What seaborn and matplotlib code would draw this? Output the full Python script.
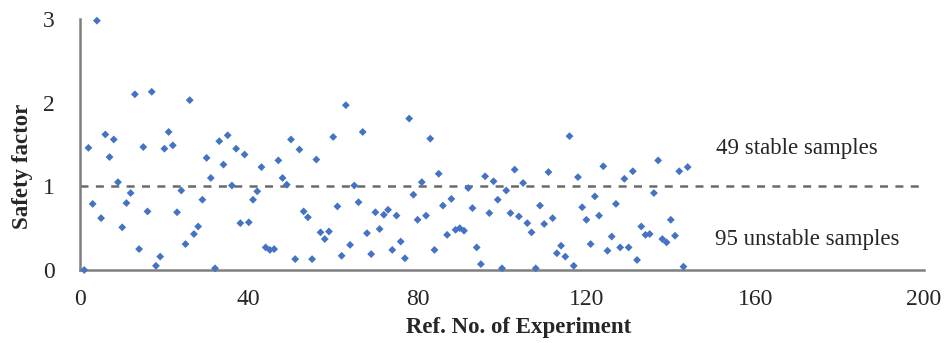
import matplotlib
matplotlib.use("Agg")
import matplotlib.pyplot as plt
import seaborn as sns
import pandas as pd

experiment = list(range(1, 145))
safety_factor = [
    0.00, 1.46, 0.79, 2.98, 0.62, 1.62, 1.35, 1.56, 1.05, 0.51,
    0.80, 0.92, 2.10, 0.25, 1.47, 0.70, 2.13, 0.05, 0.16, 1.45,
    1.65, 1.49, 0.69, 0.95, 0.31, 2.03, 0.43, 0.52, 0.84, 1.34,
    1.10, 0.02, 1.54, 1.26, 1.61, 1.01, 1.45, 0.56, 1.38, 0.57,
    0.84, 0.94, 1.23, 0.27, 0.24, 0.25, 1.31, 1.10, 1.02, 1.56,
    0.13, 1.44, 0.70, 0.63, 0.13, 1.32, 0.45, 0.37, 0.46, 1.59,
    0.76, 0.17, 1.97, 0.30, 1.01, 0.81, 1.65, 0.44, 0.19, 0.69,
    0.49, 0.66, 0.72, 0.24, 0.65, 0.34, 0.14, 1.81, 0.90, 0.60,
    1.05, 0.65, 1.57, 0.24, 1.15, 0.77, 0.42, 0.85, 0.48, 0.50,
    0.47, 0.98, 0.74, 0.27, 0.07, 1.12, 0.68, 1.06, 0.84, 0.02,
    0.95, 0.68, 1.20, 0.64, 1.04, 0.56, 0.45, 0.02, 0.77, 0.55,
    1.17, 0.62, 0.20, 0.29, 0.16, 1.60, 0.05, 1.11, 0.75, 0.60,
    0.31, 0.88, 0.65, 1.24, 0.23, 0.40, 0.79, 0.27, 1.09, 0.27,
    1.18, 0.12, 0.52, 0.42, 0.43, 0.92, 1.31, 0.37, 0.33, 0.60,
    0.41, 1.18, 0.04, 1.23,
]
x_ticks = [0, 40, 80, 120, 160, 200]
y_ticks = [0, 1, 2, 3]
threshold = 1.0
stable_label = "49 stable samples"
unstable_label = "95 unstable samples"

df = pd.DataFrame({"exp": experiment, "sf": safety_factor})

sns.set_theme(style="white")
plt.rcParams["font.family"] = ["Liberation Serif", "DejaVu Serif"]

fig = plt.figure(figsize=(9.46, 3.43), dpi=100)
ax = fig.add_axes([80 / 946, 1 - 270 / 343, 844 / 946, 251 / 343])

ax.axhline(threshold, color="#6a6a6a", linestyle=(0, (3.2, 2.95)), linewidth=1.8, zorder=1)
sns.scatterplot(data=df, x="exp", y="sf", marker="D", s=16, color="#4472C4",
                edgecolor="none", ax=ax, zorder=3, clip_on=False)

ax.set_xlim(0, 200)
ax.set_ylim(0, 3)
ax.set_xticks(x_ticks)
ax.set_yticks(y_ticks)
ax.set_xticklabels([str(t) for t in x_ticks], fontsize=17)
ax.set_yticklabels([str(t) for t in y_ticks], fontsize=17)
ax.tick_params(axis="both", direction="out", length=5, width=1.4, color="#7f7f7f")
ax.tick_params(axis="x", pad=9)
ax.tick_params(axis="y", pad=13)

for side in ["top", "right"]:
    ax.spines[side].set_visible(False)
for side in ["left", "bottom"]:
    ax.spines[side].set_color("#7f7f7f")
    ax.spines[side].set_linewidth(1.8)

ax.set_xlabel("Ref. No. of Experiment", fontsize=16.5, fontweight="bold", va="center")
ax.set_ylabel("Safety factor", fontsize=16.5, fontweight="bold", va="center")
ax.xaxis.set_label_coords(0.520, -0.231)
ax.yaxis.set_label_coords(-0.0687, 0.414)

ax.text(150.7, 1.45, stable_label, fontsize=16.5, va="center", ha="left")
ax.text(150.4, 0.36, unstable_label, fontsize=16.5, va="center", ha="left")

fig.savefig("out.png", dpi=100)
